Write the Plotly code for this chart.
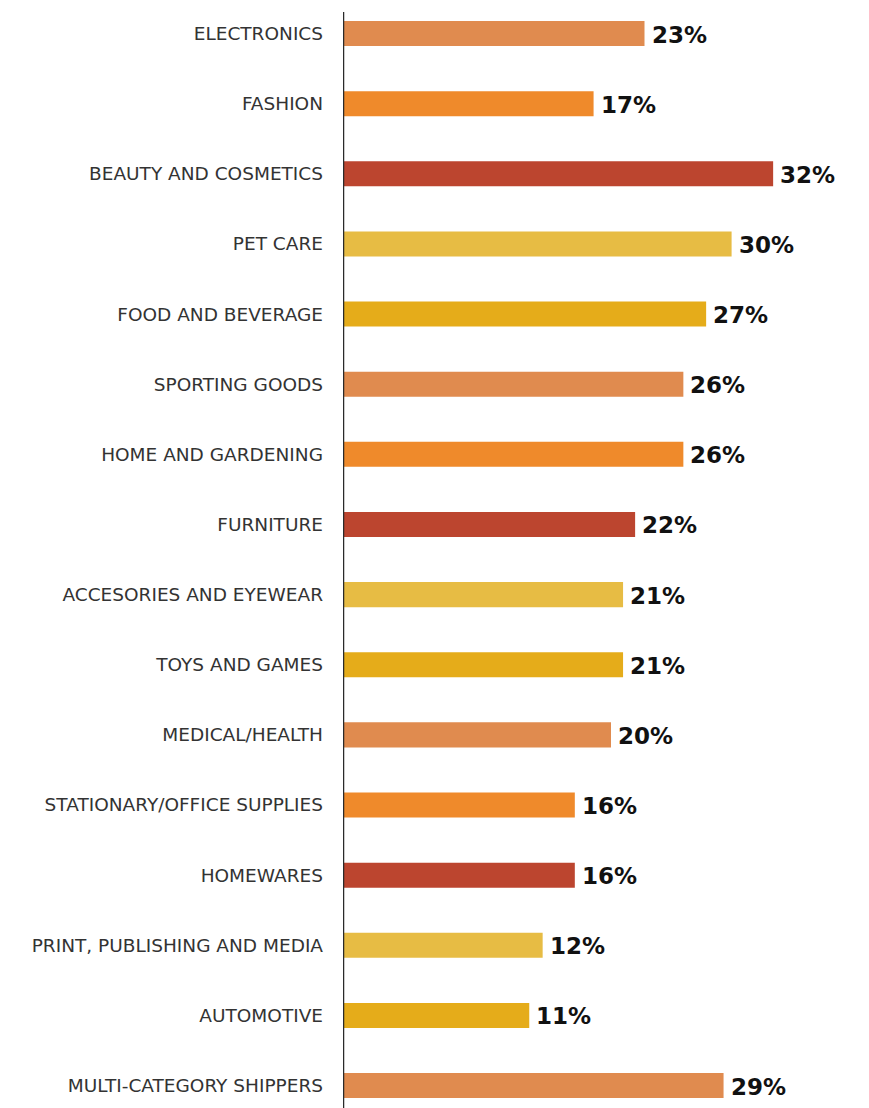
import plotly.graph_objects as go

categories = [
    "ELECTRONICS", "FASHION", "BEAUTY AND COSMETICS", "PET CARE",
    "FOOD AND BEVERAGE", "SPORTING GOODS", "HOME AND GARDENING", "FURNITURE",
    "ACCESORIES AND EYEWEAR", "TOYS AND GAMES", "MEDICAL/HEALTH",
    "STATIONARY/OFFICE SUPPLIES", "HOMEWARES", "PRINT, PUBLISHING AND MEDIA",
    "AUTOMOTIVE", "MULTI-CATEGORY SHIPPERS",
]
# bar lengths as drawn in the picture (percent units)
bar_values = [22.5, 18.7, 32.1, 29.0, 27.1, 25.4, 25.4, 21.8,
              20.9, 20.9, 20.0, 17.3, 17.3, 14.9, 13.9, 28.4]
# printed value labels
value_labels = ["23%", "17%", "32%", "30%", "27%", "26%", "26%", "22%",
                "21%", "21%", "20%", "16%", "16%", "12%", "11%", "29%"]

palette = ["#E08B4F", "#EF8A2B", "#BC452F", "#E7BC44", "#E5AC1A"]
colors = [palette[i % 5] for i in range(len(categories))]

fig = go.Figure()
fig.add_trace(go.Bar(
    x=bar_values, y=categories, orientation="h",
    marker=dict(color=colors, line=dict(width=0)),
    width=0.357, hoverinfo="skip",
))

for cat, v, lab in zip(categories, bar_values, value_labels):
    fig.add_annotation(
        x=v, y=cat, text=lab, showarrow=False, xanchor="left", yanchor="middle",
        xshift=5, yshift=-1,
        font=dict(family="DejaVu Sans, sans-serif", size=23, color="#111111", weight="bold"),
    )

fig.add_shape(type="line", xref="x", yref="paper", x0=0, x1=0, y0=0, y1=1 - 12 / 1108,
              line=dict(color="#2a2a2a", width=2.5))

fig.update_layout(
    width=869, height=1108,
    margin=dict(l=343, r=0, t=0, b=0),
    paper_bgcolor="white", plot_bgcolor="white",
    showlegend=False,
    xaxis=dict(range=[0, 526 / 13.4], visible=False, fixedrange=True),
    yaxis=dict(
        type="category", categoryorder="array", categoryarray=categories,
        range=[15.32, -0.478], autorange=False,
        showline=False, showgrid=False, zeroline=False, ticks="",
        ticklabelstandoff=19,
        tickfont=dict(family="DejaVu Sans, sans-serif", size=18.5, color="#333333"),
    ),
)

fig.write_html("out.html")
